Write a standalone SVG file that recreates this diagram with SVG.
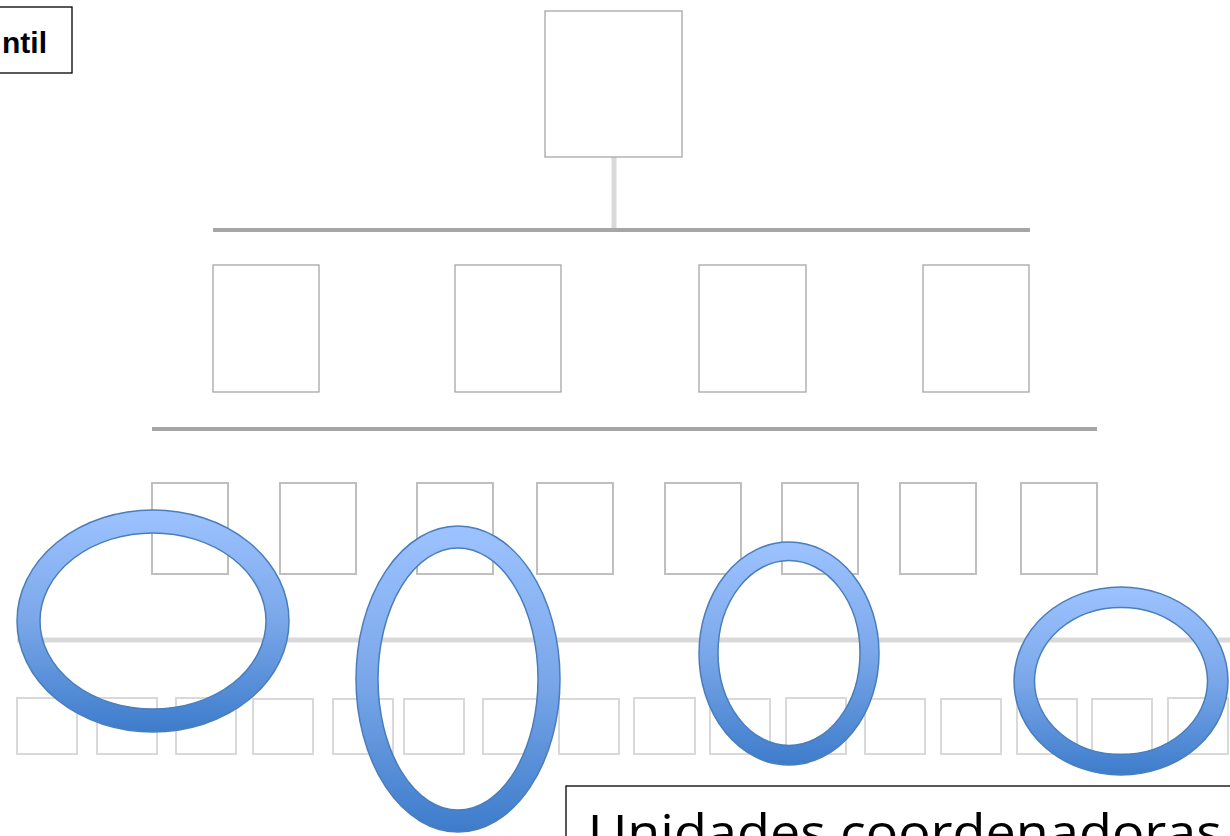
<svg xmlns="http://www.w3.org/2000/svg" width="1230" height="836" viewBox="0 0 1230 836">
<style>
.b1{fill:#fff;stroke:#a6a6a6;stroke-width:1.3}
.b2{fill:#fff;stroke:#bfbfbf;stroke-width:2}
.b3{fill:#fff;stroke:#d9d9d9;stroke-width:2}
.ring{fill:url(#g);fill-rule:evenodd;stroke:#4a7ebb;stroke-width:1.5}
.lbl{fill:#fff;stroke:#000;stroke-width:1.3}
</style>
<defs>
<linearGradient id="g" x1="0" y1="0" x2="0" y2="1">
<stop offset="0" stop-color="#9dc3ff"/>
<stop offset="0.5" stop-color="#7aa7e9"/>
<stop offset="1" stop-color="#3d7ccb"/>
</linearGradient>
</defs>
<rect width="1230" height="836" fill="#fff"/>
<g id="connectors">
<line x1="614" y1="157" x2="614" y2="230" stroke="#d9d9d9" stroke-width="5"/>
<line x1="213" y1="230" x2="1030" y2="230" stroke="#a6a6a6" stroke-width="4"/>
<line x1="152" y1="429" x2="1097" y2="429" stroke="#a6a6a6" stroke-width="4"/>
<line x1="17" y1="640" x2="1230" y2="640" stroke="#d9d9d9" stroke-width="5"/>
</g>
<g id="top"><rect class="b1" x="545" y="11" width="137" height="146"/></g>
<g id="level1">
<rect class="b1" x="213" y="265" width="106" height="127"/>
<rect class="b1" x="455" y="265" width="106" height="127"/>
<rect class="b1" x="699" y="265" width="107" height="127"/>
<rect class="b1" x="923" y="265" width="106" height="127"/>
</g>
<g id="level2">
<rect class="b2" x="152" y="483" width="76" height="91"/>
<rect class="b2" x="280" y="483" width="76" height="91"/>
<rect class="b2" x="417" y="483" width="76" height="91"/>
<rect class="b2" x="537" y="483" width="76" height="91"/>
<rect class="b2" x="665" y="483" width="76" height="91"/>
<rect class="b2" x="782" y="483" width="76" height="91"/>
<rect class="b2" x="900" y="483" width="76" height="91"/>
<rect class="b2" x="1021" y="483" width="76" height="91"/>
</g>
<g id="level3">
<rect class="b3" x="17" y="698" width="60" height="56"/>
<rect class="b3" x="97" y="698" width="60" height="56"/>
<rect class="b3" x="176" y="698" width="60" height="56"/>
<rect class="b3" x="253" y="699" width="60" height="55"/>
<rect class="b3" x="333" y="699" width="60" height="55"/>
<rect class="b3" x="404" y="699" width="60" height="55"/>
<rect class="b3" x="483" y="699" width="60" height="55"/>
<rect class="b3" x="559" y="699" width="60" height="55"/>
<rect class="b3" x="634" y="698" width="61" height="56"/>
<rect class="b3" x="710" y="699" width="60" height="55"/>
<rect class="b3" x="786" y="698" width="60" height="56"/>
<rect class="b3" x="865" y="699" width="60" height="55"/>
<rect class="b3" x="941" y="699" width="60" height="55"/>
<rect class="b3" x="1017" y="699" width="60" height="55"/>
<rect class="b3" x="1092" y="699" width="60" height="55"/>
<rect class="b3" x="1168" y="698" width="60" height="56"/>
</g>
<g id="ring1"><path class="ring" d="M17,621a136,111 0 1,0 272,0a136,111 0 1,0 -272,0ZM40,621a113,88 0 1,0 226,0a113,88 0 1,0 -226,0Z"/></g>
<g id="ring2"><path class="ring" d="M356,679a102,153 0 1,0 204,0a102,153 0 1,0 -204,0ZM378,679a80,131 0 1,0 160,0a80,131 0 1,0 -160,0Z"/></g>
<g id="ring3"><path class="ring" d="M699,653.5a90,111.5 0 1,0 180,0a90,111.5 0 1,0 -180,0ZM718,653a71,92.5 0 1,0 142,0a71,92.5 0 1,0 -142,0Z"/></g>
<g id="ring4"><path class="ring" d="M1014,681a107,94 0 1,0 214,0a107,94 0 1,0 -214,0ZM1034.5,681a86.5,73.5 0 1,0 173,0a86.5,73.5 0 1,0 -173,0Z"/></g>
<g id="label">
<rect class="lbl" x="-2" y="7" width="74" height="66"/>
<text x="47" y="53" text-anchor="end" font-family="Liberation Sans, Arial, sans-serif" font-weight="bold" font-size="30">ntil</text>
</g>
<g id="title">
<rect class="lbl" x="566" y="786" width="680" height="70"/>
<text x="588" y="850" font-family="Open Sans, Liberation Sans, sans-serif" font-size="50" textLength="634" lengthAdjust="spacingAndGlyphs">Unidades coordenadoras</text>
</g>
</svg>
